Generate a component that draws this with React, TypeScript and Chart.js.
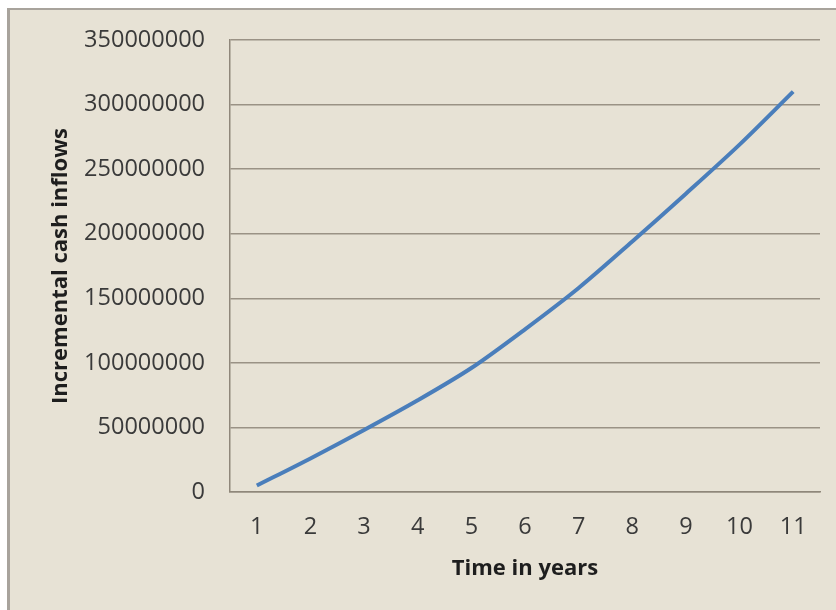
import React, { useEffect, useRef } from "react";
import { Chart, registerables } from "chart.js";

Chart.register(...registerables);

const years = ["1", "2", "3", "4", "5", "6", "7", "8", "9", "10", "11"];
const inflows = [5000000, 26000000, 48000000, 71000000, 96000000, 126000000, 158000000, 194000000, 231000000, 269000000, 310000000];
const yTitle = "Incremental cash inflows";
const xTitle = "Time in years";

const FONT = "Open Sans";

export default function App() {
  const ref = useRef<HTMLCanvasElement | null>(null);
  useEffect(() => {
    if (!ref.current) return;
    const chart = new Chart(ref.current, {
      type: "line",
      data: {
        labels: years,
        datasets: [
          {
            data: inflows,
            borderColor: "#4a7ebb",
            borderWidth: 4,
            pointRadius: 0,
            tension: 0.3,
            fill: false,
          },
        ],
      },
      options: {
        animation: false,
        responsive: false,
        layout: { padding: { top: 30, right: 16, left: 0, bottom: 0 } },
        plugins: { legend: { display: false }, tooltip: { enabled: false } },
        scales: {
          x: {
            offset: true,
            grid: { display: false, drawTicks: false },
            border: { display: true, color: "#8f877a", width: 1.5 },
            ticks: { color: "#3a3a3a", font: { family: FONT, size: 23.5 }, padding: 21, maxRotation: 0 },
            title: {
              display: true,
              text: xTitle,
              color: "#1e1e1e",
              font: { family: FONT, size: 22, weight: "bold" },
              padding: { top: 0, bottom: 28 },
            },
            afterFit: (s: any) => {
              s.height = 118;
              s.paddingLeft = 0;
              s.paddingRight = 0;
            },
          },
          y: {
            min: 0,
            max: 350000000,
            ticks: {
              stepSize: 50000000,
              color: "#3a3a3a",
              font: { family: FONT, size: 23.5 },
              padding: 25,
              callback: (v: any) => String(v),
            },
            grid: { color: "#9a9285", lineWidth: 1.5, drawTicks: false },
            border: { display: true, color: "#8f877a", width: 1.5 },
            title: {
              display: true,
              text: yTitle,
              color: "#1e1e1e",
              font: { family: FONT, size: 22, weight: "bold" },
              padding: { top: 38, bottom: 0 },
            },
            afterFit: (s: any) => {
              s.width = 220;
              s.paddingTop = 0;
              s.paddingBottom = 0;
            },
          },
        },
      },
    });
    return () => chart.destroy();
  }, []);
  return (
    <div
      style={{
        position: "absolute",
        left: 7,
        top: 8,
        width: 829,
        height: 602,
        background: "#e7e2d5",
        borderLeft: "3px solid #a8a39c",
        borderTop: "2px solid #a8a39c",
        boxSizing: "border-box",
        overflow: "hidden",
      }}
    >
      <canvas ref={ref} width={826} height={600} style={{ display: "block" }} />
    </div>
  );
}
